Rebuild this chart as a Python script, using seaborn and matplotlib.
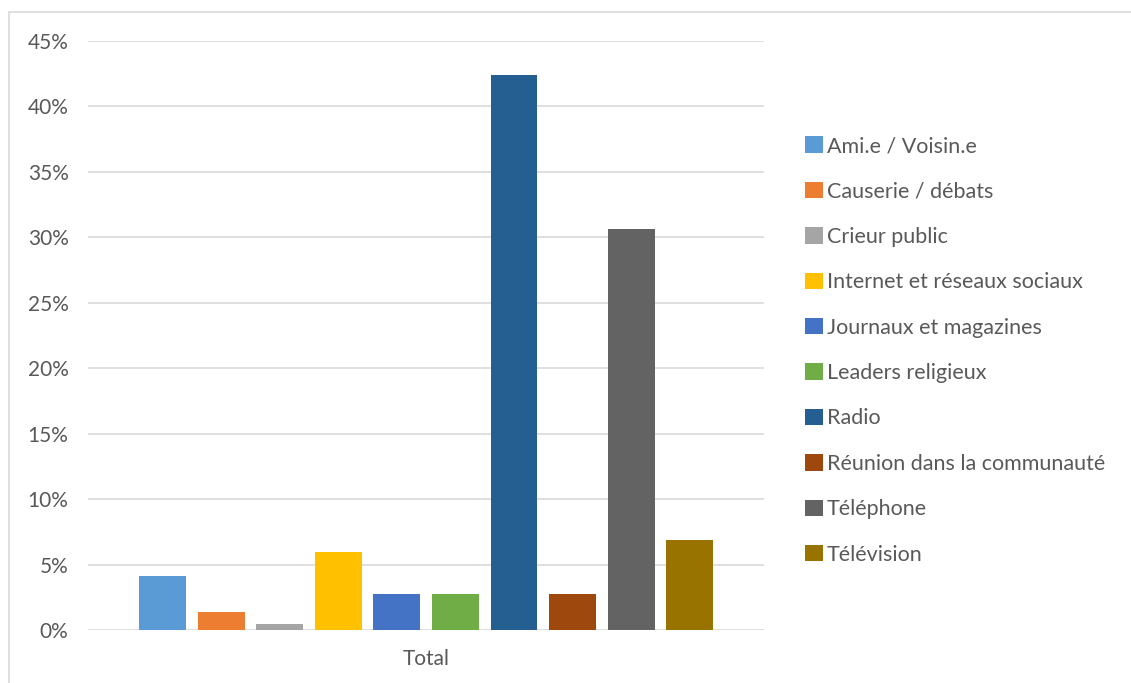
import pandas as pd
import numpy as np
import matplotlib.pyplot as plt
import seaborn as sns
from matplotlib.patches import Rectangle
from matplotlib.ticker import PercentFormatter

# Data
sources = ['Ami.e / Voisin.e', 'Causerie / débats', 'Crieur public',
           'Internet et réseaux sociaux', 'Journaux et magazines',
           'Leaders religieux', 'Radio', 'Réunion dans la communauté',
           'Téléphone', 'Télévision']
shares = [4.1, 1.4, 0.45, 5.95, 2.75, 2.75, 42.4, 2.75, 30.6, 6.85]
category = ['Total'] * len(sources)

colors = ['#5B9BD5', '#ED7D31', '#A5A5A5', '#FFC000', '#4472C4',
          '#70AD47', '#255E91', '#9E480E', '#636363', '#997300']

df = pd.DataFrame({'cat': category, 'source': sources, 'share': shares})

sns.set_style('white')
plt.rcParams['font.family'] = ['Lato', 'DejaVu Sans']
txt = '#595959'

fig = plt.figure(figsize=(11.31, 6.83), dpi=100)
ax = fig.add_axes([0.0778, 0.0776, 0.598, 0.8624])

sns.barplot(data=df, x='cat', y='share', hue='source', palette=colors,
            width=0.866, gap=0.2, saturation=1, linewidth=0, ax=ax, legend=True)

ax.set_ylim(0, 45)
ax.set_yticks(np.arange(0, 46, 5))
ax.yaxis.set_major_formatter(PercentFormatter(decimals=0))
ax.grid(axis='y', color='#D9D9D9', lw=1.2)
ax.set_axisbelow(True)
for s in ax.spines.values():
    s.set_visible(False)
ax.tick_params(axis='both', length=0, labelsize=15, colors=txt)
ax.tick_params(axis='y', pad=14)
ax.tick_params(axis='x', pad=14)
ax.set_xlabel('')
ax.set_ylabel('')

# legend on the right, Excel-like
h, l = ax.get_legend_handles_labels()
ax.legend_.remove()
fig.legend(h, l, loc='center left', bbox_to_anchor=(0.695, 0.487),
           frameon=False, fontsize=15.5, labelcolor=txt,
           handlelength=0.8, handleheight=0.8, handletextpad=0.2,
           labelspacing=1.18)

# chart border
fig.patches.append(Rectangle((0.0077, -0.01), 1.0, 0.993, transform=fig.transFigure,
                             fill=False, edgecolor='#D9D9D9', lw=1.2))

fig.savefig('out.png', dpi=100)
